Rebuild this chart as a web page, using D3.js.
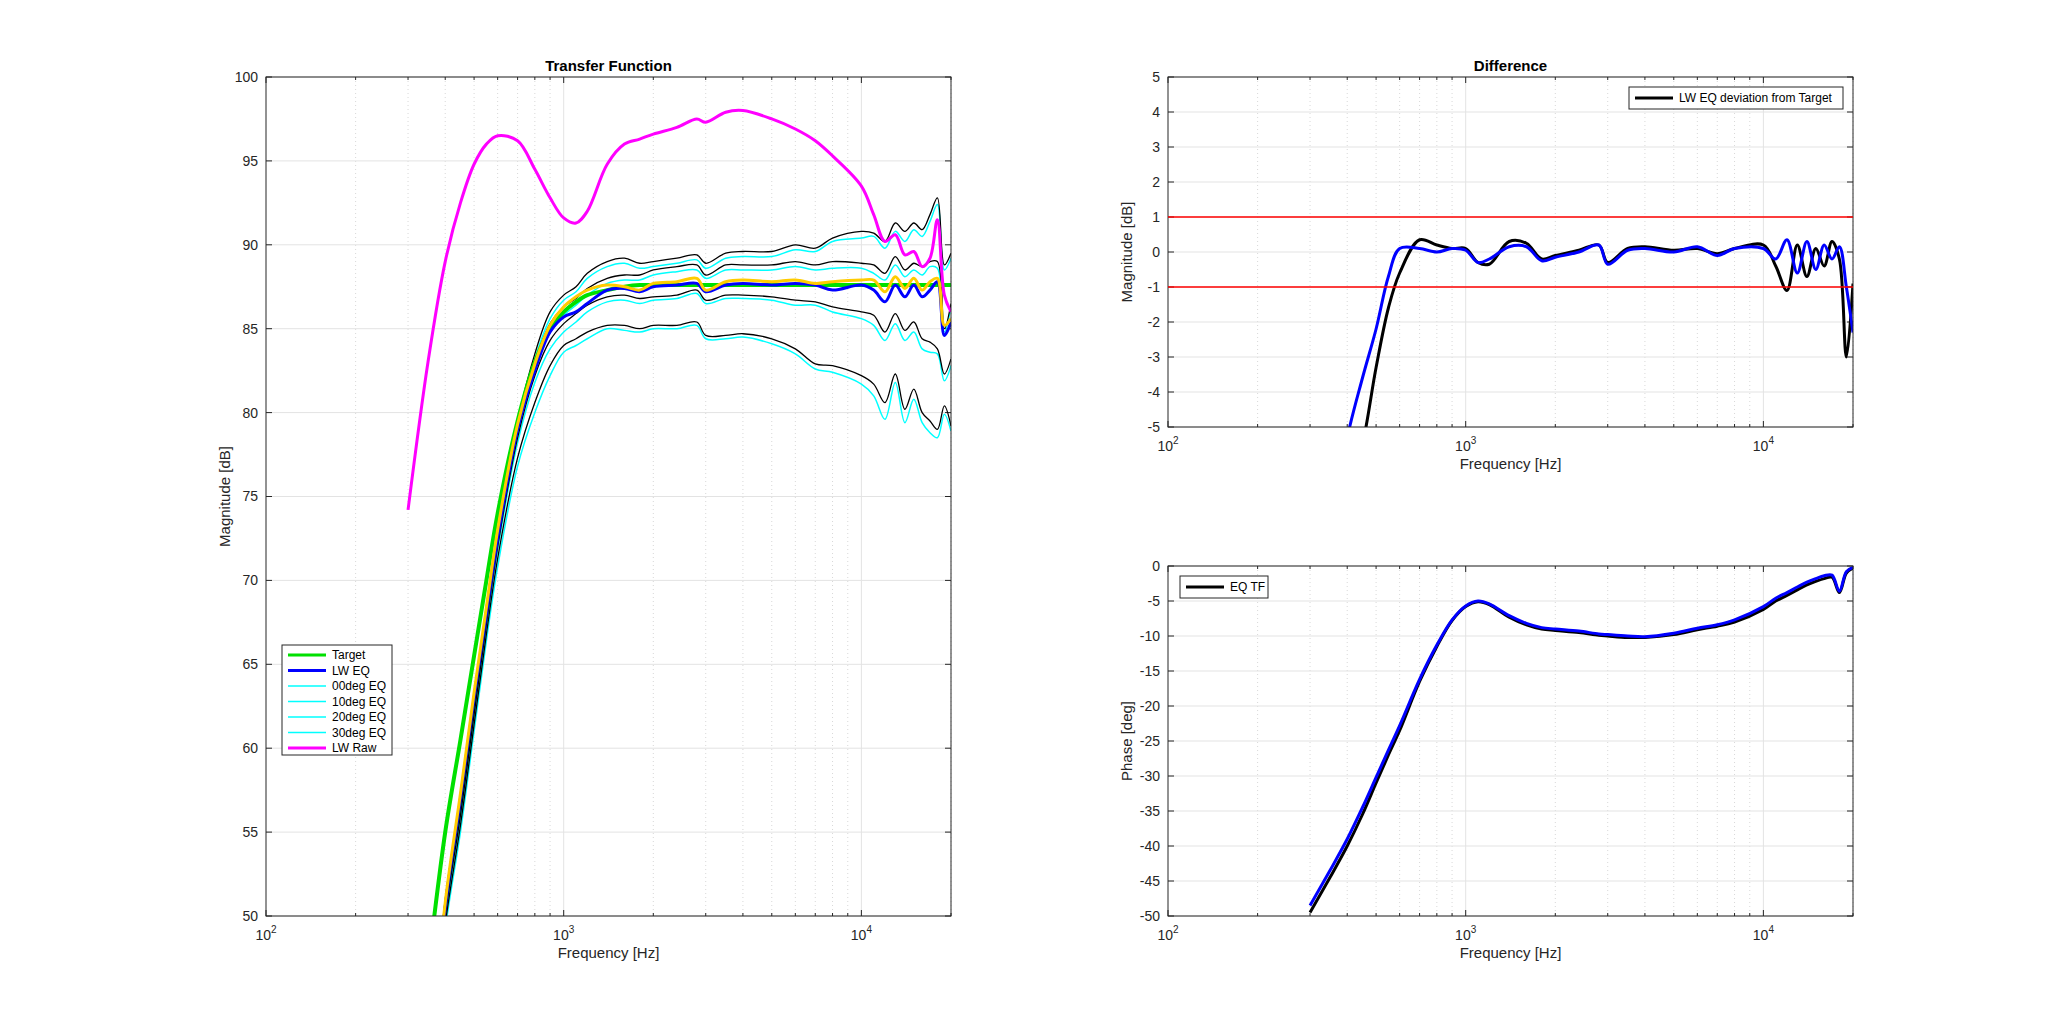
<!DOCTYPE html>
<html><head><meta charset="utf-8">
<script src="https://cdn.jsdelivr.net/npm/d3@7"></script>
<style>
body{margin:0;background:#fff;font-family:Helvetica,"Liberation Sans",Arial,sans-serif}
text{font-family:Helvetica,"Liberation Sans",Arial,sans-serif}
</style></head>
<body><svg id="fig" width="2048" height="1029"></svg>
<script>
// frequency grid shared by all curves
const freq = [300,350,400,450,500,550,600,700,800,900,1000,1100,1200,1400,1600,1800,2000,2400,2800,3000,3500,4000,5000,6000,7000,8000,10000,11000,12000,13000,14000,15000,16000,17000,18000,19000,20000];

const lwRaw = [74.2,83,89,92.5,94.8,96,96.5,96.2,94.5,92.8,91.6,91.3,92,94.8,96,96.3,96.6,97.0,97.5,97.3,97.9,98.0,97.5,96.9,96.2,95.3,93.5,91.8,90.2,90.6,89.4,89.6,88.7,89.2,91.5,87,86];
const target = [38,47,55,60.5,65.5,70,74,79.5,83,85,86,86.6,87,87.3,87.5,87.6,87.6,87.6,87.6,87.6,87.6,87.6,87.6,87.6,87.6,87.6,87.6,87.6,87.6,87.6,87.6,87.6,87.6,87.6,87.6,87.6,87.6];
const lwEq = [30,40,50.5,57,63,68,72.5,79,82.5,84.8,85.7,86,86.5,87.3,87.4,87.2,87.5,87.6,87.7,87.2,87.6,87.7,87.6,87.7,87.6,87.3,87.6,87.3,86.6,87.6,86.9,87.6,86.9,87.3,87.8,84.6,85.4];
const yellowEq = [30,40,50.8,57.3,63.3,68.4,73,79.3,82.9,85.2,86.3,86.9,87.3,87.6,87.5,87.3,87.7,87.8,88.0,87.3,87.8,87.9,87.8,87.9,87.7,87.8,87.9,87.9,87.2,88.1,87.4,88.0,87.3,87.8,88.0,85.2,85.6];
const eq00 = [30,40,50.5,56.5,62.5,68,72.5,79.2,83.2,85.6,86.7,87.2,88.0,88.7,88.9,88.6,88.7,88.9,89.1,88.6,89.2,89.3,89.3,89.7,89.6,90.2,90.4,90.5,89.8,90.8,90.2,90.9,90.5,91.4,92.4,88.5,89.2];
const eq00k = [30,40,51,57,63,68.5,73,79.5,83.5,86,87,87.5,88.3,89.0,89.2,88.9,89.0,89.2,89.4,88.9,89.5,89.6,89.6,90.0,89.8,90.4,90.8,90.7,90.2,91.3,90.8,91.3,90.9,91.8,92.8,88.8,89.5];
const eq10 = [30,40,50.2,56.2,62.2,67.6,72.2,78.8,82.6,84.8,85.8,86.4,87.0,87.7,87.9,87.9,88.2,88.4,88.5,88.0,88.5,88.5,88.5,88.7,88.5,88.6,88.6,88.3,87.9,88.8,88.1,88.5,88.2,88.7,88.6,84.8,86.3];
const eq10k = [30,40,50.4,56.5,62.5,67.9,72.6,79.2,83,85.3,86.3,86.8,87.4,88.0,88.2,88.2,88.5,88.7,88.8,88.2,88.8,88.8,88.8,89.0,88.8,89.0,88.9,88.8,88.3,89.3,88.5,88.9,88.7,89.0,89.0,85,86.5];
const eq20 = [30,40,49.8,55.8,61.8,67.2,71.8,78.2,81.8,83.8,84.8,85.4,86.0,86.6,86.7,86.5,86.7,86.8,87.1,86.5,86.8,86.8,86.7,86.4,86.4,86.0,85.6,85.2,84.3,85.3,84.3,84.8,83.8,83.6,83.5,81.9,82.8];
const eq20k = [30,40,50,56,62,67.4,72,78.5,82.2,84.3,85.3,85.9,86.4,86.9,87.0,86.8,86.9,87.0,87.3,86.7,87.0,87.0,86.9,86.7,86.6,86.3,86.0,85.8,84.8,85.9,84.9,85.4,84.4,84.2,83.8,82.3,83.2];
const eq30 = [30,40,49.2,55,61,66.4,70.8,76.8,80.0,82.2,83.6,84.0,84.4,85.0,84.9,84.8,85.0,85.0,85.2,84.4,84.4,84.5,84.1,83.5,82.6,82.4,81.7,81.0,79.6,81.8,79.4,80.8,79.4,78.8,78.5,79.9,78.9];
const eq30k = [30,40,49.5,55.4,61.4,66.8,71.3,77.3,80.6,82.8,84.0,84.4,84.8,85.2,85.2,85.0,85.2,85.2,85.4,84.6,84.6,84.7,84.4,83.8,82.9,82.8,82.2,81.7,80.6,82.3,80.2,81.4,80.0,79.5,79.0,80.4,79.2];

const devBlack = [-12,-9,-7,-5.5,-3.3,-1.6,-0.6,0.35,0.2,0.1,0.1,-0.3,-0.35,0.3,0.25,-0.2,-0.1,0.05,0.2,-0.3,0.1,0.15,0.05,0.1,-0.05,0.1,0.2,-0.4,-1.1,0.2,-0.7,0.1,-0.4,0.3,-0.2,-3.0,-0.9];
const devBlue = [-12,-8,-5.3,-3.6,-2.2,-0.7,0.1,0.1,0.0,0.1,0.05,-0.3,-0.2,0.15,0.15,-0.25,-0.15,0.0,0.2,-0.35,0.05,0.1,0.0,0.15,-0.1,0.1,0.1,-0.2,0.35,-0.6,0.3,-0.5,0.2,-0.2,0.15,-1.0,-2.3];

const phaseBlack = [-49.5,-44.5,-40,-35.5,-31,-27,-23.5,-16.5,-11.5,-7.8,-5.8,-5.1,-5.5,-7.3,-8.4,-9,-9.2,-9.5,-9.9,-10,-10.2,-10.2,-9.8,-9.1,-8.6,-8,-6.2,-5.0,-4.2,-3.4,-2.7,-2.2,-1.8,-1.6,-3.8,-1.0,-0.3];
const phaseBlue = [-48.5,-43.5,-39,-34.5,-30.2,-26.3,-22.8,-16.2,-11.3,-7.7,-5.7,-5.0,-5.4,-7.1,-8.2,-8.8,-9.0,-9.3,-9.7,-9.8,-10.0,-10.1,-9.6,-8.9,-8.4,-7.7,-5.8,-4.6,-3.8,-3.0,-2.3,-1.8,-1.4,-1.3,-3.6,-0.8,-0.2];

const legendLeft = ['Target','LW EQ','00deg EQ','10deg EQ','20deg EQ','30deg EQ','LW Raw'];
const legendColors = ['#00e000','#0000ff','#00ffff','#00ffff','#00ffff','#00ffff','#ff00ff'];

const svg = d3.select('#fig');

function makeAxes(box, yDomain, yTicks, title, ylabel) {
  const g = svg.append('g').attr('transform', 'translate(' + box.x + ',' + box.y + ')');
  const x = d3.scaleLog().domain([100, 20000]).range([0, box.w]);
  const y = d3.scaleLinear().domain(yDomain).range([box.h, 0]);
  // minor grid
  const minors = [];
  [100, 1000, 10000].forEach(d => { for (let k = 2; k <= 9; k++) if (d * k <= 20000) minors.push(d * k); });
  g.selectAll('.mg').data(minors).enter().append('line')
    .attr('x1', d => x(d)).attr('x2', d => x(d)).attr('y1', 0).attr('y2', box.h)
    .attr('stroke', '#d8d8d8').attr('stroke-dasharray', '1,3');
  g.selectAll('.xg').data([1000, 10000]).enter().append('line')
    .attr('x1', d => x(d)).attr('x2', d => x(d)).attr('y1', 0).attr('y2', box.h)
    .attr('stroke', '#e3e3e3');
  g.selectAll('.yg').data(yTicks).enter().append('line')
    .attr('x1', 0).attr('x2', box.w).attr('y1', d => y(d)).attr('y2', d => y(d))
    .attr('stroke', '#e3e3e3');
  // ticks
  g.selectAll('.yt').data(yTicks).enter().append('text')
    .attr('x', -8).attr('y', d => y(d)).attr('dy', '0.35em').attr('text-anchor', 'end')
    .attr('font-size', 14).attr('fill', '#262626').text(d => d);
  g.selectAll('.ytk').data(yTicks).enter().append('path')
    .attr('d', d => 'M0,' + y(d) + 'h6M' + box.w + ',' + y(d) + 'h-6').attr('stroke', '#262626');
  [100, 1000, 10000].forEach(d => {
    const t = g.append('text').attr('x', x(d)).attr('y', box.h + 24).attr('text-anchor', 'middle')
      .attr('font-size', 14).attr('fill', '#262626');
    t.append('tspan').text('10');
    t.append('tspan').attr('dy', -7).attr('font-size', 10).text(Math.round(Math.log10(d)));
    g.append('path').attr('d', 'M' + x(d) + ',' + box.h + 'v-6M' + x(d) + ',0v6').attr('stroke', '#262626');
  });
  g.selectAll('.mt').data(minors).enter().append('path')
    .attr('d', d => 'M' + x(d) + ',' + box.h + 'v-3M' + x(d) + ',0v3').attr('stroke', '#262626');
  g.append('text').attr('x', box.w / 2).attr('y', box.h + 42).attr('text-anchor', 'middle')
    .attr('font-size', 15).attr('fill', '#262626').text('Frequency [Hz]');
  g.append('text').attr('transform', 'translate(' + (-36) + ',' + box.h / 2 + ') rotate(-90)')
    .attr('text-anchor', 'middle').attr('font-size', 15).attr('fill', '#262626').text(ylabel);
  if (title) g.append('text').attr('x', box.w / 2).attr('y', -6).attr('text-anchor', 'middle')
    .attr('font-size', 15).attr('font-weight', 'bold').attr('fill', '#000').text(title);
  const id = 'clip' + Math.round(box.x) + '_' + Math.round(box.y);
  g.append('clipPath').attr('id', id).append('rect').attr('width', box.w).attr('height', box.h);
  const plot = g.append('g').attr('clip-path', 'url(#' + id + ')');
  g.append('rect').attr('width', box.w).attr('height', box.h).attr('fill', 'none').attr('stroke', '#262626');
  const line = vals => d3.line().curve(d3.curveCatmullRom.alpha(0.5))
    .x((d, i) => x(freq[i])).y(d => y(d))(vals);
  const draw = (vals, color, w) => plot.append('path').attr('d', line(vals)).attr('fill', 'none')
    .attr('stroke', color).attr('stroke-width', w).attr('stroke-linejoin', 'round');
  return {g, x, y, draw};
}

// left: Transfer Function
const tf = makeAxes({x: 266, y: 77, w: 685, h: 839}, [50, 100], d3.range(50, 101, 5), 'Transfer Function', 'Magnitude [dB]');
[eq00, eq10, eq20, eq30].forEach(s => tf.draw(s, '#00ffff', 1.5));
[eq00k, eq10k, eq20k, eq30k].forEach(s => tf.draw(s, '#000', 1.3));
tf.draw(target, '#00e000', 4);
tf.draw(lwEq, '#0000ff', 3);
tf.draw(yellowEq, '#ffcc00', 3);
tf.draw(lwRaw, '#ff00ff', 3);
// legend
const lg = tf.g.append('g').attr('transform', 'translate(16,568)');
lg.append('rect').attr('width', 110).attr('height', 110).attr('fill', '#fff').attr('stroke', '#262626');
legendLeft.forEach((n, i) => {
  lg.append('line').attr('x1', 6).attr('x2', 44).attr('y1', 10 + i * 15.5).attr('y2', 10 + i * 15.5)
    .attr('stroke', legendColors[i]).attr('stroke-width', (i < 2 || i === 6) ? 3 : 1.5);
  lg.append('text').attr('x', 50).attr('y', 10 + i * 15.5).attr('dy', '0.35em').attr('font-size', 12).text(n);
});

// right top: Difference
const df = makeAxes({x: 1168, y: 77, w: 685, h: 350}, [-5, 5], d3.range(-5, 6, 1), 'Difference', 'Magnitude [dB]');
df.g.append('line').attr('x1', 0).attr('x2', 685).attr('y1', df.y(1)).attr('y2', df.y(1)).attr('stroke', '#ff0000').attr('stroke-width', 1.5);
df.g.append('line').attr('x1', 0).attr('x2', 685).attr('y1', df.y(-1)).attr('y2', df.y(-1)).attr('stroke', '#ff0000').attr('stroke-width', 1.5);
df.draw(devBlack, '#000', 3);
df.draw(devBlue, '#0000ff', 3);
const l2 = df.g.append('g').attr('transform', 'translate(461,10)');
l2.append('rect').attr('width', 214).attr('height', 22).attr('fill', '#fff').attr('stroke', '#262626');
l2.append('line').attr('x1', 6).attr('x2', 44).attr('y1', 11).attr('y2', 11).attr('stroke', '#000').attr('stroke-width', 3);
l2.append('text').attr('x', 50).attr('y', 11).attr('dy', '0.35em').attr('font-size', 12).text('LW EQ deviation from Target');

// right bottom: phase
const ph = makeAxes({x: 1168, y: 566, w: 685, h: 350}, [-50, 0], d3.range(-50, 1, 5), null, 'Phase [deg]');
ph.draw(phaseBlack, '#000', 3);
ph.draw(phaseBlue, '#0000ff', 3);
const l3 = ph.g.append('g').attr('transform', 'translate(12,10)');
l3.append('rect').attr('width', 88).attr('height', 22).attr('fill', '#fff').attr('stroke', '#262626');
l3.append('line').attr('x1', 6).attr('x2', 44).attr('y1', 11).attr('y2', 11).attr('stroke', '#000').attr('stroke-width', 3);
l3.append('text').attr('x', 50).attr('y', 11).attr('dy', '0.35em').attr('font-size', 12).text('EQ TF');
</script></body></html>
